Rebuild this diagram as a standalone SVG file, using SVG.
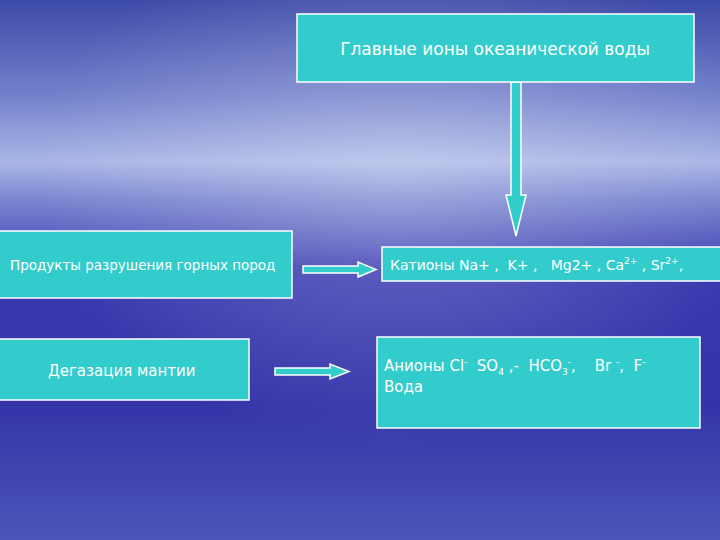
<svg xmlns="http://www.w3.org/2000/svg" width="720" height="540" viewBox="0 0 720 540">
<defs>
<linearGradient id="bg" x1="0" y1="0" x2="0" y2="1">
<stop offset="0" stop-color="#3c4aa8"/>
<stop offset="0.18" stop-color="#7482cc"/>
<stop offset="0.3" stop-color="#aab6e6"/>
<stop offset="0.37" stop-color="#7a86d0"/>
<stop offset="0.5" stop-color="#3a3ab0"/>
<stop offset="0.75" stop-color="#3434a8"/>
<stop offset="1" stop-color="#4a56b8"/>
</linearGradient>
<radialGradient id="glow" cx="0.55" cy="0.33" r="0.5">
<stop offset="0" stop-color="#ffffff" stop-opacity="0.25"/>
<stop offset="1" stop-color="#ffffff" stop-opacity="0"/>
</radialGradient>
<style>
.box{fill:#33cccc;stroke:#ffffff;stroke-width:1.5}
.arr{fill:#33cccc;stroke:#ffffff;stroke-width:1.5}
.t{font-family:"DejaVu Sans",sans-serif;fill:#ffffff;white-space:pre}
</style>
</defs>
<rect width="720" height="540" fill="url(#bg)"/>
<rect width="720" height="540" fill="url(#glow)"/>
<g id="connectors">
<path class="arr" d="M511,82 H521 V195 H526 L516,236 L506,195 H511 Z"/>
<path class="arr" d="M303,266 H358 V262 L376,269.5 L358,277 V273 H303 Z"/>
<path class="arr" d="M275,368 H330 V364 L349,371.5 L330,379 V375 H275 Z"/>
</g>
<g id="title">
<rect class="box" x="297" y="14" width="397" height="68"/>
<text class="t" x="495" y="55" font-size="17" text-anchor="middle">Главные ионы океанической воды</text>
</g>
<g id="products">
<rect class="box" x="-2" y="231" width="294" height="67"/>
<text class="t" x="10" y="270" font-size="13.5">Продукты разрушения горных пород</text>
</g>
<g id="degas">
<rect class="box" x="-2" y="339" width="251" height="61"/>
<text class="t" x="48" y="376" font-size="15">Дегазация мантии</text>
</g>
<g id="cations">
<rect class="box" x="382" y="247" width="340" height="34"/>
<text class="t" x="390" y="270" font-size="14" xml:space="preserve">Катионы Na+ ,  K+ ,   Mg2+ , Ca<tspan font-size="9" dy="-6">2+</tspan><tspan dy="6"> , Sr</tspan><tspan font-size="9" dy="-6">2+</tspan><tspan dy="6">,</tspan></text>
</g>
<g id="anions">
<rect class="box" x="377" y="337" width="323" height="91"/>
<text class="t" x="384" y="371" font-size="15" xml:space="preserve">Анионы Cl<tspan font-size="9" dy="-6">-</tspan><tspan dy="6">  SO</tspan><tspan font-size="9" dy="4">4</tspan><tspan dy="-4"> ,-  HCO</tspan><tspan font-size="9" dy="4">3</tspan><tspan font-size="9" dy="-10">-</tspan><tspan dy="6">,    Br </tspan><tspan font-size="9" dy="-6">-</tspan><tspan dy="6">,  F</tspan><tspan font-size="9" dy="-6">-</tspan></text>
<text class="t" x="384" y="392" font-size="15">Вода</text>
</g>
</svg>
